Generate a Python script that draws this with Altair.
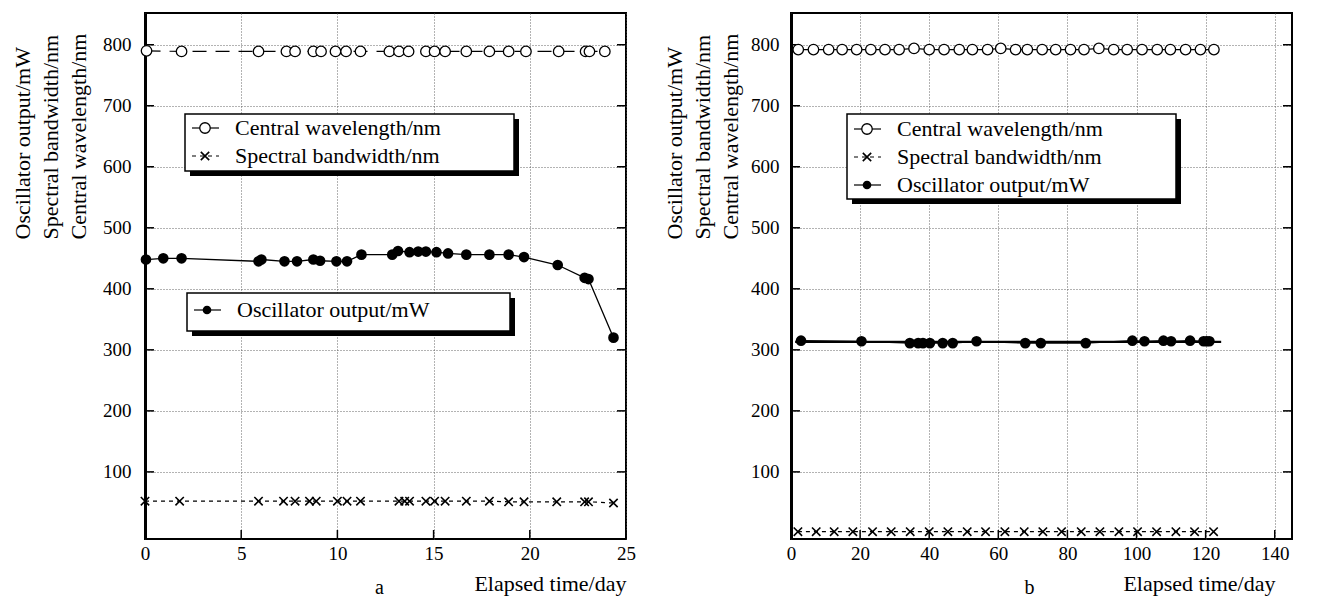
import altair as alt
import pandas as pd

FONT = "Liberation Serif"
FS = 19      # tick labels
TFS = 22     # titles and legend text

# ---------------- data: panel a ----------------
a_wl_day = [0.08, 1.9, 5.9, 7.35, 7.8, 8.75, 9.15, 9.9, 10.45, 11.2, 12.7, 13.2, 13.7, 14.6,
            15.05, 15.6, 16.7, 17.9, 18.9, 19.8, 21.5, 22.9, 23.1, 23.9]
a_wl_val = [790, 789, 789, 789, 789, 789, 789, 789, 789, 789, 789, 789, 789, 789,
            789, 789, 789, 789, 789, 789, 789, 789, 789, 789]

a_bw_day = [0.0, 1.8, 5.9, 7.2, 7.8, 8.55, 8.9, 10.0, 10.5, 11.2, 13.2, 13.5, 13.75, 14.6,
            15.05, 15.6, 16.7, 17.9, 18.9, 19.7, 21.4, 22.85, 23.05, 24.35]
a_bw_val = [52, 52, 52, 52, 52, 52, 52, 52, 52, 52, 52, 52, 52, 52,
            52, 52, 52, 52, 51, 51, 51, 51, 51, 49]

a_pw_day = [0.05, 0.95, 1.9, 5.9, 6.05, 7.25, 7.9, 8.75, 9.1, 9.95, 10.5, 11.25, 12.85, 13.15,
            13.75, 14.2, 14.6, 15.15, 15.75, 16.7, 17.9, 18.9, 19.7, 21.45, 22.85, 23.05, 24.35]
a_pw_val = [448, 450, 450, 445, 448, 445, 445, 448, 446, 445, 445, 456, 456, 462,
            460, 461, 461, 460, 458, 456, 456, 456, 452, 439, 418, 416, 320]

# ---------------- data: panel b ----------------
b_wl_day = [2.1, 6.5, 10.9, 14.8, 19.0, 23.1, 27.2, 31.3, 35.6, 40.0, 44.3, 48.7, 52.5, 56.9,
            60.7, 65.0, 68.4, 72.7, 76.6, 80.9, 84.8, 89.1, 93.4, 97.3, 101.6, 106.0, 109.8,
            114.2, 118.5, 122.4]
b_wl_val = [792, 792, 792, 792, 792, 792, 792, 792, 794, 792, 792, 792, 792, 792,
            794, 792, 792, 792, 792, 792, 792, 794, 792, 792, 792, 792, 792,
            792, 792, 792]

b_bw_day = [2.0, 7.3, 12.5, 17.9, 23.6, 29.0, 34.5, 40.0, 45.4, 51.0, 56.3, 61.9, 67.5, 72.9,
            78.3, 84.0, 89.4, 94.9, 100.3, 105.8, 111.4, 116.8, 122.3]
b_bw_val = [2, 2, 2, 2, 2, 2, 2, 2, 2, 2, 2, 2, 2, 2,
            2, 2, 2, 2, 2, 2, 2, 2, 2]

b_pw_day = [2.9, 20.4, 34.4, 36.8, 38.2, 40.2, 43.9, 46.8, 53.7, 67.8, 72.3, 85.3, 98.8, 102.3,
            107.8, 110.0, 115.5, 119.4, 120.3, 121.1]
b_pw_val = [315, 314, 311, 311, 311, 311, 311, 311, 314, 311, 311, 311, 315, 314,
            315, 314, 315, 314, 314, 314]
b_fit_day = [1.2, 124.5]
b_fit_val = [313, 313]

# ---------------- axes / labels ----------------
Y_TICKS = [100, 200, 300, 400, 500, 600, 700, 800]
Y_DOMAIN = [-10, 852]
A_XTICKS = [0, 5, 10, 15, 20, 25]
B_XTICKS = [0, 20, 40, 60, 80, 100, 120, 140]
Y_TITLE = ["Oscillator output/mW", "Spectral bandwidth/nm", "Central wavelength/nm"]
X_TITLE = "Elapsed time/day"
LBL_WL = "Central wavelength/nm"
LBL_BW = "Spectral bandwidth/nm"
LBL_PW = "Oscillator output/mW"

H = 526
XPATH = "M-1,-1L1,1M-1,1L1,-1"


def df(days, vals):
    return pd.DataFrame({"day": days, "val": vals})


def panel(wl, bw, pw, fit, xdom, xticks, W, letter, ytx, xtx, legends, letter_dx, wl_dash, ylp):
    xaxis = alt.Axis(values=xticks, title=X_TITLE, grid=True, gridColor="#555",
                     gridDash=[1, 2], gridWidth=0.9, ticks=False, domain=False,
                     labelFont=FONT, labelFontSize=FS, labelColor="black", labelPadding=5,
                     labelFlush=False, labelOverlap=False,
                     titleFont=FONT, titleFontSize=TFS, titleFontWeight="normal",
                     titleColor="black", titleX=xtx, titleY=44, titleAlign="right",
                     titleBaseline="middle")
    yaxis = alt.Axis(values=Y_TICKS, title=Y_TITLE, grid=True, gridColor="#555",
                     gridDash=[1, 2], gridWidth=0.9, ticks=False, domain=True,
                     domainColor="black", domainWidth=3,
                     labelFont=FONT, labelFontSize=FS, labelColor="black", labelPadding=ylp,
                     titleFont=FONT, titleFontSize=TFS, titleFontWeight="normal",
                     titleColor="black", titleAngle=270, titleAlign="left",
                     titleBaseline="top", titleX=ytx, titleY=226, titleLineHeight=28)
    xs = alt.Scale(domain=xdom, nice=False, zero=False)
    ys = alt.Scale(domain=Y_DOMAIN, nice=False, zero=False)
    X = alt.X("day:Q", scale=xs, axis=xaxis)
    Y = alt.Y("val:Q", scale=ys, axis=yaxis)

    layers = []
    # inward ticks
    ty = pd.DataFrame({"val": Y_TICKS})
    layers.append(alt.Chart(ty).mark_rule(color="black", strokeWidth=1.5).encode(
        y=Y, x=alt.value(0), x2=alt.value(9)))
    layers.append(alt.Chart(ty).mark_rule(color="black", strokeWidth=1.5).encode(
        y=Y, x=alt.value(W - 9), x2=alt.value(W)))
    tx = pd.DataFrame({"day": xticks})
    layers.append(alt.Chart(tx).mark_rule(color="black", strokeWidth=1.5).encode(
        x=X, y=alt.value(H - 9), y2=alt.value(H)))

    wl_kw = {"strokeDash": wl_dash} if wl_dash else {}
    layers.append(alt.Chart(wl).mark_line(color="black", strokeWidth=1.2, **wl_kw).encode(x=X, y=Y))
    layers.append(alt.Chart(bw).mark_line(color="black", strokeWidth=1.2,
                                          strokeDash=[4, 4]).encode(x=X, y=Y))
    if fit is not None:
        layers.append(alt.Chart(fit).mark_line(color="black", strokeWidth=2.4).encode(x=X, y=Y))
        layers.append(alt.Chart(pw).mark_line(color="black", strokeWidth=1.2).encode(x=X, y=Y))
    else:
        layers.append(alt.Chart(pw).mark_line(color="black", strokeWidth=1.3).encode(x=X, y=Y))
    layers.append(alt.Chart(wl).mark_point(shape="circle", filled=True, fill="white",
                                           stroke="black", strokeWidth=1.3, size=110,
                                           opacity=1).encode(x=X, y=Y))
    layers.append(alt.Chart(bw).mark_point(shape=XPATH, filled=False, stroke="black",
                                           strokeWidth=1.6, size=70,
                                           opacity=1).encode(x=X, y=Y))
    layers.append(alt.Chart(pw).mark_point(shape="circle", filled=True, fill="black",
                                           stroke="black", size=75,
                                           opacity=1).encode(x=X, y=Y))

    # legends (decoration)
    for (x0, y0, x1, y1, rows) in legends:
        one = pd.DataFrame({"k": [0]})
        layers.append(alt.Chart(one).mark_rect(color="black").encode(
            x=alt.value(x0 + 5), x2=alt.value(x1 + 5), y=alt.value(y0 + 5), y2=alt.value(y1 + 5)))
        layers.append(alt.Chart(one).mark_rect(fill="white", stroke="black", strokeWidth=1.5).encode(
            x=alt.value(x0), x2=alt.value(x1), y=alt.value(y0), y2=alt.value(y1)))
        for (kind, label, ry) in rows:
            lab = pd.DataFrame({"label": [label]})
            lx0, lx1, mx, tx0 = x0 + 7, x0 + 34, x0 + 20, x0 + 50
            if kind == "bw":
                layers.append(alt.Chart(lab).mark_rule(color="black", strokeWidth=1.2,
                                                       strokeDash=[4, 4]).encode(
                    x=alt.value(lx0), x2=alt.value(lx1), y=alt.value(ry)))
                layers.append(alt.Chart(lab).mark_point(shape=XPATH, filled=False, stroke="black",
                                                        strokeWidth=1.6, size=70, opacity=1).encode(
                    x=alt.value(mx), y=alt.value(ry)))
            else:
                layers.append(alt.Chart(lab).mark_rule(color="black", strokeWidth=1.2).encode(
                    x=alt.value(lx0), x2=alt.value(lx1), y=alt.value(ry)))
                if kind == "wl":
                    layers.append(alt.Chart(lab).mark_point(shape="circle", filled=True, fill="white",
                                                            stroke="black", strokeWidth=1.3, size=110,
                                                            opacity=1).encode(
                        x=alt.value(mx), y=alt.value(ry)))
                else:
                    layers.append(alt.Chart(lab).mark_point(shape="circle", filled=True, fill="black",
                                                            size=75, opacity=1).encode(
                        x=alt.value(mx), y=alt.value(ry)))
            layers.append(alt.Chart(lab).mark_text(align="left", baseline="middle", font=FONT,
                                                   fontSize=TFS, color="black").encode(
                x=alt.value(tx0), y=alt.value(ry), text="label:N"))

    return alt.layer(*layers).properties(
        width=W, height=H,
        title=alt.TitleParams(letter, orient="bottom", anchor="middle", frame="group",
                              font=FONT, fontSize=20, fontWeight="normal", color="black",
                              offset=-16, dx=letter_dx))


legA = [
    (40, 101, 369, 158, [("wl", LBL_WL, 115), ("bw", LBL_BW, 143)]),
    (42, 280, 365, 318, [("pw", LBL_PW, 297)]),
]
legB = [
    (56, 101, 385, 186, [("wl", LBL_WL, 116), ("bw", LBL_BW, 144), ("pw", LBL_PW, 172)]),
]

left = panel(df(a_wl_day, a_wl_val), df(a_bw_day, a_bw_val), df(a_pw_day, a_pw_val), None,
             [0, 25], A_XTICKS, 481, "a", -133, 481, legA, -6, [14, 9], 14)
right = panel(df(b_wl_day, b_wl_val), df(b_bw_day, b_bw_val), df(b_pw_day, b_pw_val),
              df(b_fit_day, b_fit_val), [0, 145], B_XTICKS, 501, "b", -127, 484, legB, -12, None, 12)

chart = alt.hconcat(left, right, spacing=24).properties(
    padding={"left": 2, "top": 4, "right": 5, "bottom": 0}
).configure_view(stroke="black", strokeWidth=2)

chart.save("out.html", embed_options={"renderer": "svg", "actions": False})
